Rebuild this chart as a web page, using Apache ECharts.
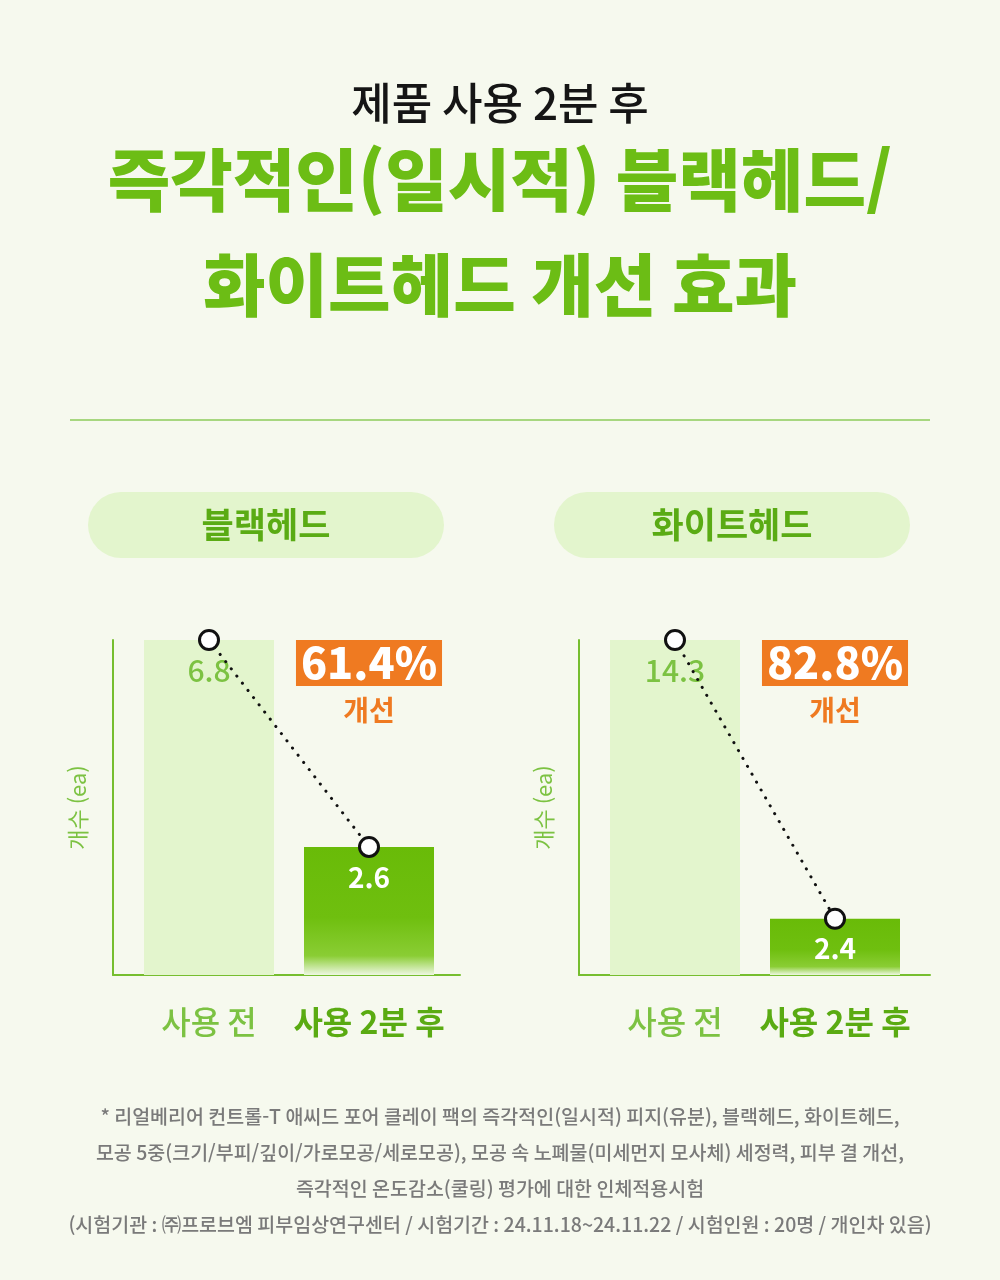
<!DOCTYPE html>
<html lang="ko">
<head>
<meta charset="UTF-8">
<title>블랙헤드/화이트헤드 개선 효과</title>
<script src="https://cdn.jsdelivr.net/npm/echarts@6/dist/echarts.min.js"></script>
<style>
  html, body { margin: 0; padding: 0; background: #f6f9ee; }
  #main { width: 1000px; height: 1280px; }
</style>
</head>
<body>
<div id="main"></div>
<script>
// data
var categories = ['사용 전', '사용 2분 후'];
var panels = ['블랙헤드', '화이트헤드'];
var blackhead = [6.8, 2.6];
var whitehead = [14.3, 2.4];
var improvement = ['61.4%', '82.8%'];
var notes = [
    '* 리얼베리어 컨트롤-T 애씨드 포어 클레이 팩의 즉각적인(일시적) 피지(유분), 블랙헤드, 화이트헤드,',
    '모공 5중(크기/부피/깊이/가로모공/세로모공), 모공 속 노폐물(미세먼지 모사체) 세정력, 피부 결 개선,',
    '즉각적인 온도감소(쿨링) 평가에 대한 인체적용시험',
    '(시험기관 : ㈜프로브엠 피부임상연구센터 / 시험기간 : 24.11.18~24.11.22 / 시험인원 : 20명 / 개인차 있음)'
];

var FONT = '"Noto Sans CJK KR", "Noto Sans", sans-serif';
var GREEN = '#6cbd15';
var LIGHT = '#e3f5cd';
var AXIS = '#76be2f';
var ORANGE = '#ef7a21';

var chart = echarts.init(document.getElementById('main'));

function txt(text, x, y, size, weight, color) {
    return {
        type: 'text', x: x, y: y, silent: true,
        style: {
            text: text, fill: color, font: weight + ' ' + size + 'px ' + FONT,
            align: 'center', verticalAlign: 'middle',
            textAlign: 'center', textVerticalAlign: 'middle'
        }
    };
}

var panelX = [113, 579];      // y axis line position of each panel
var dataLeft = [129, 595];    // grid for bars
var frameW = [347, 351];
var values = [blackhead, whitehead];

var grids = [], xAxes = [], yAxes = [], series = [], graphics = [];

graphics.push(txt('제품 사용 2분 후', 500, 103, 44, 500, '#151515'));
graphics.push(txt('즉각적인(일시적) 블랙헤드/', 500, 180, 68, 900, GREEN));
graphics.push(txt('화이트헤드 개선 효과', 500, 285, 68, 900, GREEN));
graphics.push({
    type: 'line', silent: true,
    shape: { x1: 70, y1: 420, x2: 930, y2: 420 },
    style: { stroke: '#8ccb5a', lineWidth: 1.5 }
});
notes.forEach(function (t, i) {
    graphics.push(txt(t, 500, 1117 + i * 35.7, 19.5, 500, '#7a7a7a'));
});

for (var p = 0; p < 2; p++) {
    var pillX = p === 0 ? 88 : 554;
    graphics.push({
        type: 'rect', silent: true,
        shape: { x: pillX, y: 492, width: 356, height: 66, r: 33 },
        style: { fill: LIGHT }
    });
    graphics.push(txt(panels[p], pillX + 178, 525, 35, 'bold', '#5aab14'));

    var c2 = dataLeft[p] + 240; // center of second bar
    graphics.push({
        type: 'text', x: c2, y: 663, silent: true,
        style: {
            text: improvement[p], fill: '#fff', font: '900 43px ' + FONT,
            align: 'center', verticalAlign: 'middle',
            textAlign: 'center', textVerticalAlign: 'middle',
            backgroundColor: ORANGE, padding: [0, 5, 0, 5], lineHeight: 46
        }
    });
    graphics.push(txt('개선', c2, 710, 28, 'bold', ORANGE));

    // data grid
    grids.push({ left: dataLeft[p], top: 640, width: 320, height: 335 });
    // frame grid (axis lines)
    grids.push({ left: panelX[p], top: 640, width: frameW[p], height: 335 });

    xAxes.push({
        type: 'category', gridIndex: 2 * p,
        data: [
            { value: categories[0], textStyle: { color: '#7cc242', fontWeight: 500 } },
            { value: categories[1], textStyle: { color: '#5aab12', fontWeight: 'bold' } }
        ],
        axisLine: { show: false }, axisTick: { show: false },
        axisLabel: { interval: 0, hideOverlap: false, margin: 31, fontSize: 32, fontFamily: FONT }
    });
    xAxes.push({
        type: 'value', gridIndex: 2 * p + 1, min: 0, max: 1,
        axisLine: { show: true, lineStyle: { color: AXIS, width: 2 } },
        axisTick: { show: false }, axisLabel: { show: false }, splitLine: { show: false }
    });
    yAxes.push({
        type: 'value', gridIndex: 2 * p, min: 0, max: values[p][0], show: false
    });
    yAxes.push({
        type: 'value', gridIndex: 2 * p + 1, min: 0, max: 1,
        axisLine: { show: true, lineStyle: { color: AXIS, width: 2 } },
        axisTick: { show: false }, axisLabel: { show: false }, splitLine: { show: false },
        name: '개수 (ea)', nameLocation: 'middle', nameRotate: 90, nameGap: 24,
        nameTextStyle: { color: '#7cc242', fontSize: 22, fontFamily: FONT }
    });

    series.push({
        type: 'bar', xAxisIndex: 2 * p, yAxisIndex: 2 * p,
        barWidth: 130,
        data: [
            {
                value: values[p][0],
                itemStyle: { color: LIGHT },
                label: { color: '#7cc242', fontWeight: 500, fontSize: 30 }
            },
            {
                value: values[p][1],
                itemStyle: {
                    color: {
                        type: 'linear', x: 0, y: 0, x2: 0, y2: 1,
                        colorStops: [
                            { offset: 0, color: '#69bb08' },
                            { offset: 0.55, color: '#6fbf0f' },
                            { offset: 0.85, color: '#8acd34' },
                            { offset: 1, color: '#eef7e2' }
                        ]
                    }
                },
                label: { color: '#ffffff', fontWeight: 'bold', fontSize: 28 }
            }
        ],
        label: {
            show: true, position: 'insideTop', distance: 16,
            fontFamily: FONT
        }
    });
    series.push({
        type: 'line', xAxisIndex: 2 * p, yAxisIndex: 2 * p,
        data: values[p], z: 5,
        symbol: 'circle', symbolSize: 19,
        itemStyle: { color: '#ffffff', borderColor: '#111', borderWidth: 3 },
        lineStyle: { color: '#111', width: 3, type: [0.1, 9], cap: 'round' },
        label: { show: false }
    });
}

chart.setOption({
    backgroundColor: '#f6f9ee',
    animation: false,
    textStyle: { fontFamily: FONT },
    grid: grids,
    xAxis: xAxes,
    yAxis: yAxes,
    series: series,
    graphic: { elements: graphics }
});
</script>
</body>
</html>
